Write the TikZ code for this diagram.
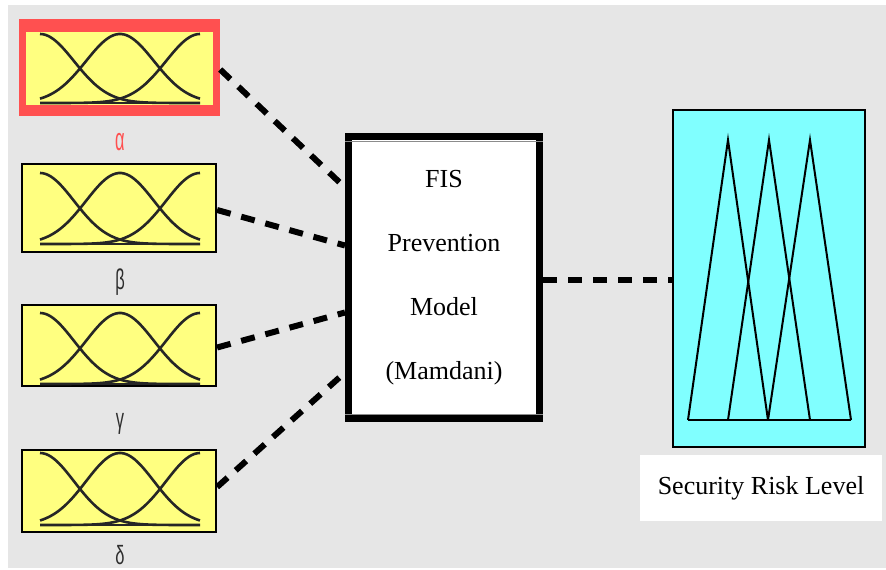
\documentclass[tikz,border=0pt]{standalone}
\usepackage{fontspec}
\setmainfont{Liberation Serif}
\newfontfamily\greekfont{Liberation Sans}
\usetikzlibrary{calc}

\definecolor{panelgray}{HTML}{E6E6E6}
\definecolor{mfyellow}{HTML}{FFFF80}
\definecolor{selred}{HTML}{FF5050}
\definecolor{outcyan}{HTML}{80FFFF}
\definecolor{labelgray}{HTML}{2E2E2E}

\tikzset{
  inbox/.style={draw=black, line width=2.2pt, fill=mfyellow, inner sep=0pt,
                minimum width=194pt},
  mfcurve/.style={draw=black!85, line width=2.6pt},
  glabel/.style={font=\greekfont\fontsize{22}{22}\selectfont, text=labelgray, inner sep=0pt},
  fisbox/.style={draw=black, line width=7pt, fill=white, minimum width=191pt,
                 minimum height=282pt, align=center, inner sep=0pt,
                 font=\fontsize{26}{64}\selectfont},
  seam/.style={draw=black!45, line width=0.8pt},
  outbox/.style={draw=black, line width=2.2pt, fill=outcyan, minimum width=192pt,
                 minimum height=337pt, inner sep=0pt},
  tri/.style={draw=black, line width=2pt, line join=miter},
  link/.style={draw=black, line width=6pt, dash pattern=on 14pt off 11pt}
}

% Three Gaussian membership functions (sigma 34 over a 160 wide universe)
% #1 = baseline y, #2 = peak height
\newcommand\mfgauss[2]{%
  \begin{scope}[shift={(40,#1)}]
    \draw[mfcurve] (0,0) -- (160,0);
    \draw[mfcurve] plot[domain=0:160, samples=60, smooth]
      (\x, {-#2*exp(-0.5*(\x/34)*(\x/34))});
    \draw[mfcurve] plot[domain=0:160, samples=60, smooth]
      (\x, {-#2*exp(-0.5*((\x-80)/34)*((\x-80)/34))});
    \draw[mfcurve] plot[domain=0:160, samples=60, smooth]
      (\x, {-#2*exp(-0.5*((\x-160)/34)*((\x-160)/34))});
  \end{scope}}

\begin{document}
\begin{tikzpicture}[x=1pt, y=-1pt]
\useasboundingbox (0,0) rectangle (886,570);
\fill[white] (0,0) rectangle (886,570);
\fill[panelgray] (8,5) rectangle (886,568);

% input variables
\node[fill=selred, inner sep=0pt, minimum width=201pt, minimum height=97pt] (in1) at (119.5,67.5) {};
\fill[mfyellow] (26,31.5) rectangle (213,105);
\node[inbox, minimum height=88pt] (in2) at (119,208) {};
\node[inbox, minimum height=81pt] (in3) at (119,345.5) {};
\node[inbox, minimum height=82pt] (in4) at (119,491) {};

\mfgauss{103}{69}
\mfgauss{244}{71}
\mfgauss{384}{71}
\mfgauss{525}{72}

\node[glabel, text=selred] (l1) at (120,142) {\scalebox{0.75}[1.45]{α}};
\node[glabel] (l2) at (120,282) {\scalebox{0.75}[1.3]{β}};
\node[glabel] (l3) at (120,424) {\scalebox{0.75}[1.3]{γ}};
\node[glabel] (l4) at (120,555) {\scalebox{0.75}[1.2]{δ}};

% inference system
\node[fisbox] (fis) at (444,277.5) {FIS\\Prevention\\Model\\(Mamdani)};
\draw[seam] ([yshift=-8pt]fis.north west) -- ([yshift=-8pt]fis.north east);
\draw[seam] ([yshift=8pt]fis.south west) -- ([yshift=8pt]fis.south east);

% output variable
\node[outbox] (out) at (769,278.5) {};
\draw[tri] (688,420) -- (728,140) -- (768,420);
\draw[tri] (728,420) -- (769,140) -- (810,420);
\draw[tri] (768,420) -- (810,140) -- (851,420);
\draw[tri] (688,420) -- (851,420);
\node[fill=white, minimum width=242pt, minimum height=66pt, inner sep=0pt,
      font=\fontsize{26}{30}\selectfont] (lbl) at (761,488) {Security Risk Level};

% connections
\draw[link] ([yshift=-2pt]in1.east) -- ([yshift=90pt]fis.west);
\draw[link] ([yshift=-2pt]in2.east) -- ([yshift=32pt]fis.west);
\draw[link] ([yshift=-2pt]in3.east) -- ([yshift=-35pt]fis.west);
\draw[link] ([yshift=4pt]in4.east) -- ([yshift=-95pt]fis.west);
\draw[link] ([yshift=-2pt]fis.east) -- ([yshift=-2pt]fis.east -| out.west);
\end{tikzpicture}
\end{document}
